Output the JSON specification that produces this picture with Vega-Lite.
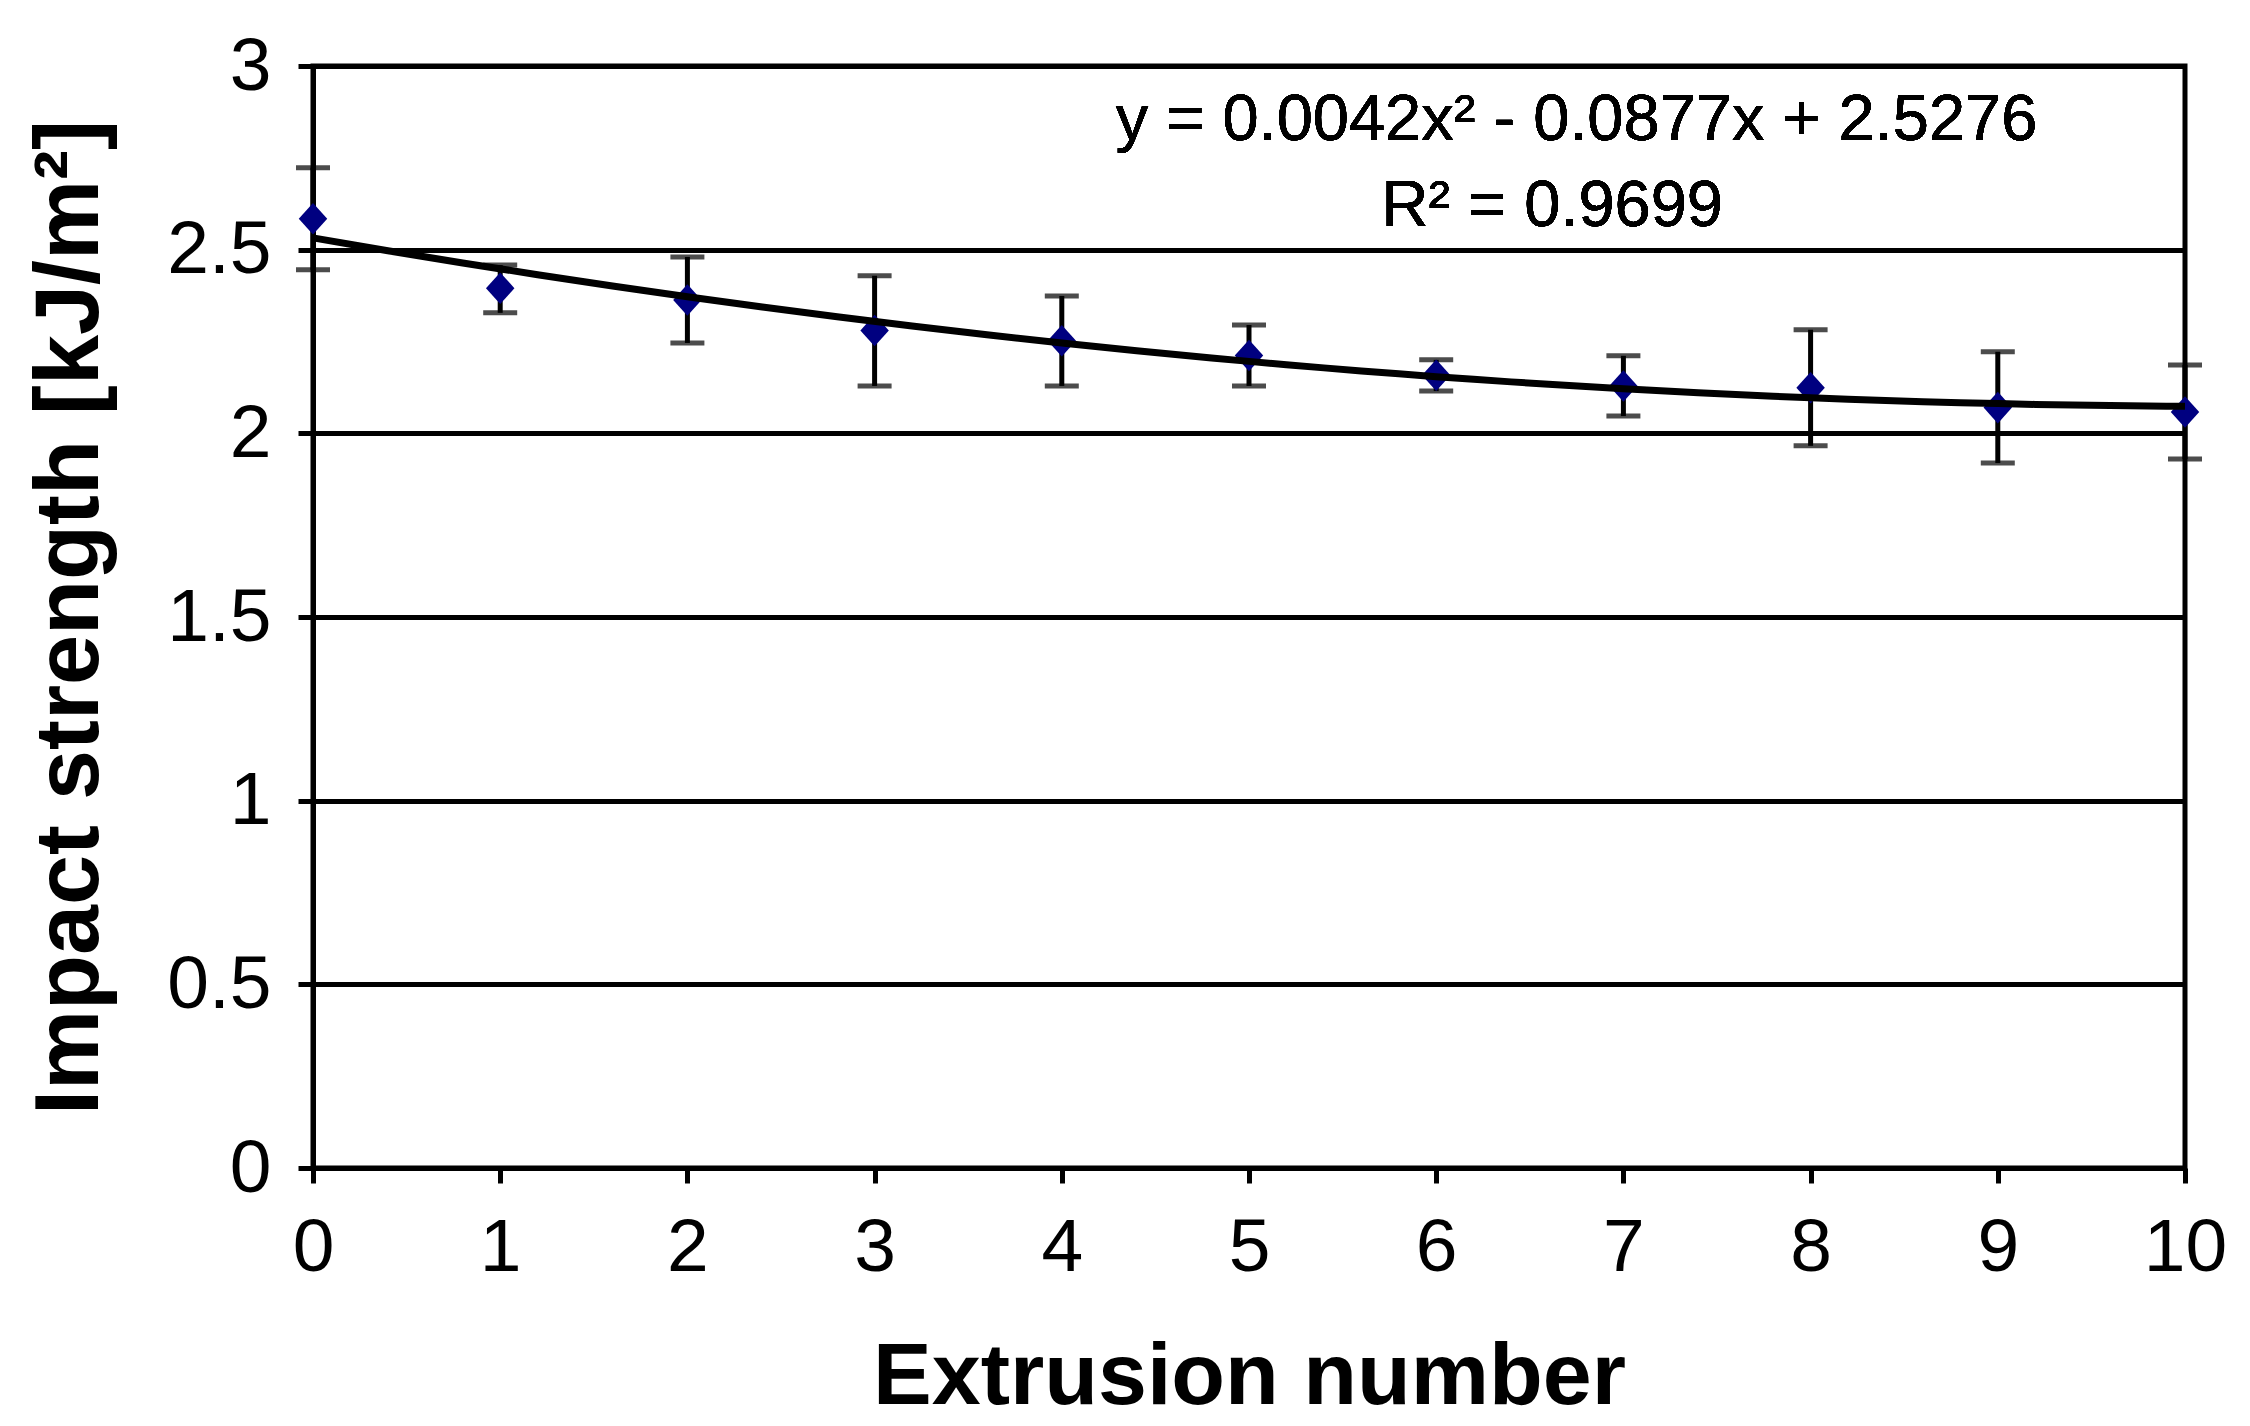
{
  "$schema": "https://vega.github.io/schema/vega-lite/v6.json",
  "autosize": {"type": "none"},
  "padding": {"left": 313, "top": 66, "right": 65, "bottom": 258},
  "width": 1872,
  "height": 1102,
  "background": "white",
  "config": {
    "font": "Liberation Sans",
    "view": {"stroke": "black", "strokeWidth": 5},
    "axis": {
      "labelFont": "Liberation Sans",
      "titleFont": "Liberation Sans",
      "labelColor": "black",
      "titleColor": "black",
      "labelFontSize": 75,
      "titleFontSize": 88,
      "titleFontWeight": "bold",
      "domainColor": "black",
      "domainWidth": 5,
      "tickColor": "black",
      "tickWidth": 5,
      "tickSize": 15
    }
  },
  "data": {
    "values": [
      {"x": 0, "mean": 2.584, "lo": 2.445, "hi": 2.723},
      {"x": 1, "mean": 2.395, "lo": 2.328, "hi": 2.458},
      {"x": 2, "mean": 2.363, "lo": 2.246, "hi": 2.48},
      {"x": 3, "mean": 2.28, "lo": 2.129, "hi": 2.429},
      {"x": 4, "mean": 2.252, "lo": 2.129, "hi": 2.374},
      {"x": 5, "mean": 2.212, "lo": 2.129, "hi": 2.295},
      {"x": 6, "mean": 2.158, "lo": 2.115, "hi": 2.2},
      {"x": 7, "mean": 2.129, "lo": 2.047, "hi": 2.211},
      {"x": 8, "mean": 2.124, "lo": 1.966, "hi": 2.282},
      {"x": 9, "mean": 2.07, "lo": 1.919, "hi": 2.222},
      {"x": 10, "mean": 2.058, "lo": 1.93, "hi": 2.186}
    ]
  },
  "encoding": {
    "x": {
      "field": "x",
      "type": "quantitative",
      "scale": {"domain": [0, 10], "nice": false, "zero": false},
      "axis": {
        "title": "Extrusion number",
        "values": [0, 1, 2, 3, 4, 5, 6, 7, 8, 9, 10],
        "grid": false,
        "labelPadding": 28,
        "titlePadding": 48,
        "labelFlush": false
      }
    }
  },
  "layer": [
    {
      "mark": {"type": "rule", "color": "black", "strokeWidth": 5},
      "encoding": {
        "y": {
          "field": "lo",
          "type": "quantitative",
          "scale": {"domain": [0, 3], "nice": false},
          "axis": {
            "title": "Impact strength [kJ/m²]",
            "titleFontSize": 90,
            "values": [0, 0.5, 1, 1.5, 2, 2.5, 3],
            "format": "~g",
            "grid": true,
            "gridColor": "black",
            "gridWidth": 5,
            "gridOpacity": 1,
            "labelPadding": 27,
            "titlePadding": 50,
            "labelFlush": false
          }
        },
        "y2": {"field": "hi"}
      }
    },
    {
      "mark": {"type": "tick", "orient": "horizontal", "color": "black", "thickness": 5, "size": 34},
      "encoding": {"y": {"field": "lo", "type": "quantitative"}}
    },
    {
      "mark": {"type": "tick", "orient": "horizontal", "color": "black", "thickness": 5, "size": 34},
      "encoding": {"y": {"field": "hi", "type": "quantitative"}}
    },
    {
      "mark": {"type": "point", "shape": "M-0.9,0L0,-1L0.9,0L0,1Z", "filled": true, "color": "#000080", "opacity": 1, "size": 1000, "strokeWidth": 0},
      "encoding": {"y": {"field": "mean", "type": "quantitative"}}
    },
    {
      "transform": [
        {"regression": "mean", "on": "x", "method": "poly", "order": 2, "extent": [0, 10]}
      ],
      "mark": {"type": "line", "color": "black", "strokeWidth": 7},
      "encoding": {"y": {"field": "mean", "type": "quantitative"}}
    },
    {
      "mark": {"type": "text", "fontSize": 65, "color": "black", "align": "center", "baseline": "alphabetic"},
      "encoding": {
        "x": {"datum": 6.75},
        "y": {"datum": 2.799},
        "text": {"value": "y = 0.0042x² - 0.0877x + 2.5276"}
      }
    },
    {
      "mark": {"type": "text", "fontSize": 65, "color": "black", "align": "center", "baseline": "alphabetic"},
      "encoding": {
        "x": {"datum": 6.62},
        "y": {"datum": 2.565},
        "text": {"value": "R² = 0.9699"}
      }
    }
  ]
}
